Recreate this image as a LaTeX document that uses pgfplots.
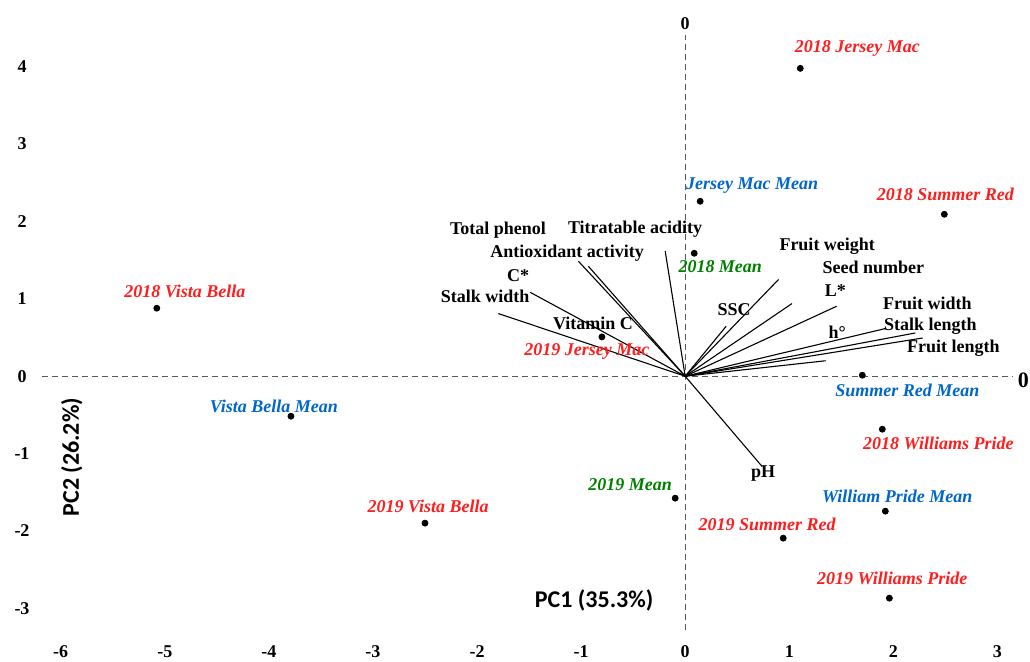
\documentclass[border=0pt]{standalone}
\usepackage{fontspec}
\setmainfont{Liberation Serif}
\newfontfamily\calfont{Carlito}
\usepackage{pgfplots}
\usepackage{pgfplotstable}
\pgfplotsset{compat=1.18}
\definecolor{pred}{RGB}{255,30,30}
\definecolor{pblue}{RGB}{0,102,204}
\definecolor{pgreen}{RGB}{0,128,0}

\pgfplotstableread{
x y
1.106 3.979
0.144 2.261
2.490 2.093
0.087 1.589
-5.077 0.879
-0.800 0.508
1.702 0.013
-3.788 -0.517
1.894 -0.685
-0.096 -1.576
1.923 -1.744
-2.500 -1.899
0.942 -2.093
1.962 -2.868
}\scores

\pgfplotstableread{
x y u v
0 0 -0.192 1.615
0 0 -1.026 1.486
0 0 -0.930 1.421
0 0 -1.490 1.085
0 0 -1.795 0.810
0 0 0.897 1.250
0 0 1.026 0.939
0 0 1.455 0.904
0 0 0.394 0.646
0 0 1.923 0.616
0 0 2.212 0.559
0 0 2.282 0.494
0 0 1.350 0.200
0 0 0.740 -1.168
}\loadings

\begin{document}
\begin{tikzpicture}[
  vlab/.style={font=\bfseries\fontsize{9}{10}\selectfont, inner sep=0pt, text=black},
  plab/.style={font=\bfseries\itshape\fontsize{9}{10}\selectfont, inner sep=0pt}]
\path[use as bounding box] (0,0) rectangle (515pt,330.5pt);
\begin{axis}[
  at={(21pt,15.5pt)}, anchor=south west,
  scale only axis, width=485.5pt, height=297.5pt,
  xmin=-6.18, xmax=3.15, ymin=-3.28, ymax=4.41,
  axis line style={draw=none}, tick style={draw=none},
  xtick={-6,...,3}, ytick={-3,...,4},
  /pgf/number format/assume math mode=true,
  ticklabel style={font=\bfseries\fontsize{9}{10}\selectfont},
  xticklabel style={anchor=center, yshift=-11pt},
  yticklabel style={anchor=center, xshift=-10pt},
  clip=false]
\addplot[densely dashed, gray!70!black, line width=0.5pt] coordinates {(-6.18,0) (3.15,0)};
\addplot[densely dashed, gray!70!black, line width=0.5pt] coordinates {(0,-3.28) (0,4.41)};
\addplot[black, line width=0.55pt, -, quiver={u=\thisrow{u}, v=\thisrow{v}}] table[x=x,y=y] {\loadings};
\addplot[only marks, mark=*, mark size=1.5pt, black] table[x=x,y=y] {\scores};

% loading labels
\node[vlab] at (axis cs:-1.798,1.886) {Total phenol};
\node[vlab] at (axis cs:-0.481,1.899) {Titratable acidity};
\node[vlab] at (axis cs:-1.135,1.589) {Antioxidant activity};
\node[vlab] at (axis cs:-1.606,1.305) {C*};
\node[vlab] at (axis cs:-1.923,1.034) {Stalk width};
\node[vlab] at (axis cs:-0.885,0.685) {Vitamin C};
\node[vlab] at (axis cs:1.365,1.680) {Fruit weight};
\node[vlab] at (axis cs:1.808,1.408) {Seed number};
\node[vlab] at (axis cs:1.442,1.111) {L*};
\node[vlab] at (axis cs:0.471,0.866) {SSC};
\node[vlab] at (axis cs:1.462,0.568) {h°};
\node[vlab] at (axis cs:2.327,0.943) {Fruit width};
\node[vlab] at (axis cs:2.356,0.646) {Stalk length};
\node[vlab] at (axis cs:2.577,0.362) {Fruit length};
\node[vlab] at (axis cs:0.75,-1.253) {pH};

% score labels
\node[plab, text=pred] at (axis cs:1.654,4.238) {2018 Jersey Mac};
\node[plab, text=pblue] at (axis cs:0.644,2.468) {Jersey Mac Mean};
\node[plab, text=pred] at (axis cs:2.50,2.351) {2018 Summer Red};
\node[plab, text=pgreen] at (axis cs:0.337,1.421) {2018 Mean};
\node[plab, text=pred] at (axis cs:-4.808,1.098) {2018 Vista Bella};
\node[plab, text=pred] at (axis cs:-0.945,0.314) {2019 Jersey Mac};
\node[plab, text=pblue] at (axis cs:2.135,-0.181) {Summer Red Mean};
\node[plab, text=pblue] at (axis cs:-3.952,-0.388) {Vista Bella Mean};
\node[plab, text=pred] at (axis cs:2.433,-0.866) {2018 Williams Pride};
\node[plab, text=pgreen] at (axis cs:-0.529,-1.395) {2019 Mean};
\node[plab, text=pblue] at (axis cs:2.038,-1.550) {William Pride Mean};
\node[plab, text=pred] at (axis cs:-2.471,-1.680) {2019 Vista Bella};
\node[plab, text=pred] at (axis cs:0.788,-1.912) {2019 Summer Red};
\node[plab, text=pred] at (axis cs:1.990,-2.610) {2019 Williams Pride};

% axis titles and zero marks
\node[font=\calfont\bfseries\fontsize{12}{14}\selectfont, inner sep=0pt] at (axis cs:-0.875,-2.894) {PC1 (35.3\%)};
\node[font=\calfont\bfseries\fontsize{12}{14}\selectfont, inner sep=0pt, rotate=90] at (axis cs:-5.894,-1.047) {PC2 (26.2\%)};
\node[font=\bfseries\fontsize{9}{10}\selectfont, inner sep=0pt] at (axis cs:0,4.56) {0};
\node[font=\bfseries\fontsize{11}{12}\selectfont, inner sep=0pt] at (axis cs:3.25,-0.05) {0};
\end{axis}
\end{tikzpicture}
\end{document}
